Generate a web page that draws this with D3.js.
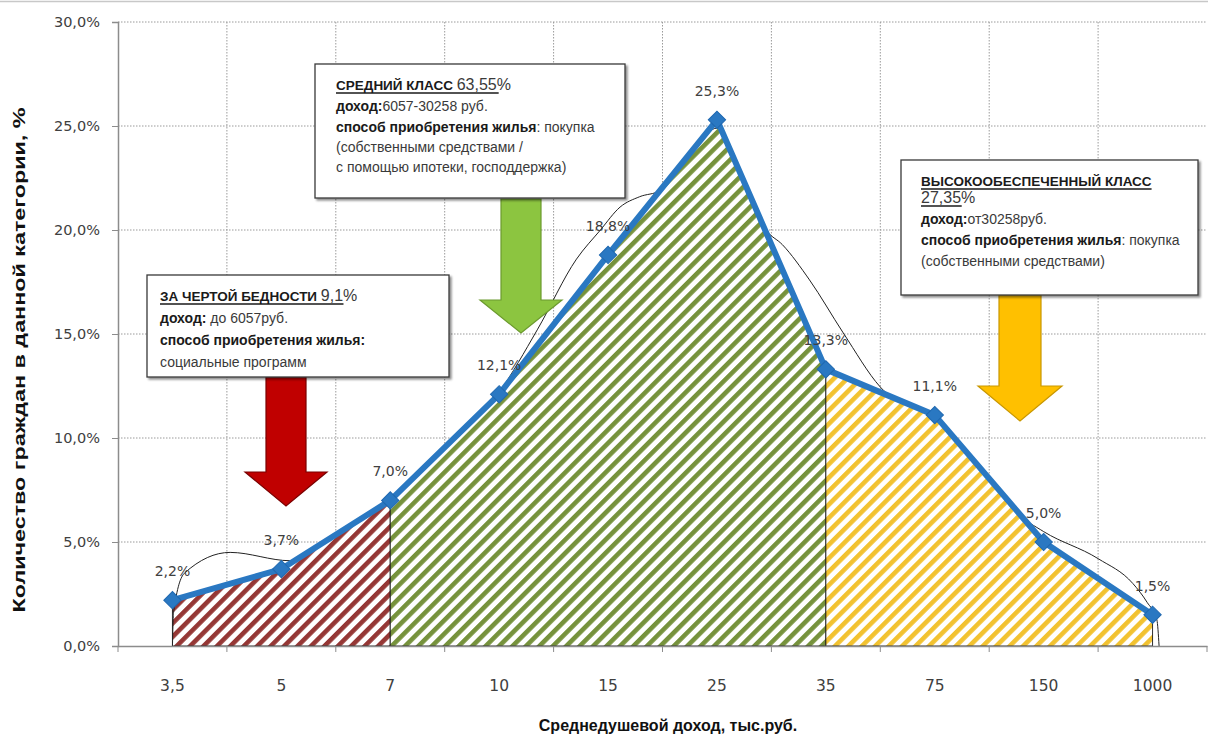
<!DOCTYPE html>
<html>
<head>
<meta charset="utf-8">
<script src="https://cdn.jsdelivr.net/npm/d3@7/dist/d3.min.js"></script>
<style>
  html, body { margin: 0; padding: 0; background: #fff; }
  svg { display: block; }
</style>
</head>
<body>
<svg id="chart" width="1208" height="735"></svg>
<script>
// Income brackets (thousand roubles per capita) and share of citizens in each
const categories = ["3,5", "5", "7", "10", "15", "25", "35", "75", "150", "1000"];
const shares = [2.2, 3.7, 7.0, 12.1, 18.8, 25.3, 13.3, 11.1, 5.0, 1.5];
const yTicks = [0, 5, 10, 15, 20, 25, 30];

// Income classes: first and last bracket index of each shaded region
const classStart = [0, 2, 6];
const classEnd = [2, 6, 9];
const classColors = ["#953735", "#76923c", "#f2c230"];

// Hand-drawn bell curve: positions in bracket units and heights in %
const bellPos = [0, 0.01, 0.11, 0.53, 1.08, 1.5, 2, 2.5, 3, 3.35, 3.71, 3.93, 4.11, 4.29, 4.48, 4.8, 5.0, 5.2, 5.45, 5.6, 5.85, 6.16, 6.5, 7, 7.4, 7.75, 8.0, 8.5, 8.82, 8.95, 9.04, 9.06];
const bellVal = [0, 1.6, 3.5, 4.5, 4.1, 5.4, 7.1, 9.5, 12.2, 15.2, 18.6, 20.0, 21.1, 21.6, 21.9, 24.0, 24.9, 22.9, 20.0, 19.3, 17.6, 15.05, 12.45, 10.9, 8.7, 6.4, 5.5, 4.2, 3.0, 2.1, 1.25, 0];

const svg = d3.select("#chart");
const W = 1208, H = 735;
const plot = { left: 118, right: 1207, top: 22, bottom: 646 };

const x = d3.scaleBand().domain(categories).range([plot.left, plot.right]).paddingInner(0).paddingOuter(0);
const bw = x.bandwidth();
const cx = c => x(c) + bw / 2;
const xi = d3.scaleLinear().domain([0, categories.length - 1]).range([cx(categories[0]), cx(categories[categories.length - 1])]);
const y = d3.scaleLinear().domain([0, 30]).range([plot.bottom, plot.top]);
const pct = v => d3.format(".1f")(v).replace(".", ",") + "%";

// outer frame line
svg.append("line").attr("x1", 0).attr("x2", W).attr("y1", 1.5).attr("y2", 1.5)
  .attr("stroke", "#c8c8c8").attr("stroke-width", 1.5);

// hatch patterns
const defs = svg.append("defs");
classColors.forEach((col, i) => {
  const p = defs.append("pattern").attr("id", "hatch" + i)
    .attr("patternUnits", "userSpaceOnUse").attr("width", 9.5).attr("height", 9.5)
    .attr("patternTransform", "rotate(45)");
  p.append("rect").attr("width", 9.5).attr("height", 9.5).attr("fill", "#fff");
  p.append("rect").attr("width", 4.6).attr("height", 9.5).attr("fill", col);
});
const shadow = defs.append("filter").attr("id", "shadow").attr("x", "-5%").attr("y", "-5%").attr("width", "115%").attr("height", "115%");
shadow.append("feDropShadow").attr("dx", 2).attr("dy", 2).attr("stdDeviation", 1.2).attr("flood-color", "#000").attr("flood-opacity", 0.45);

// gridlines
const grid = svg.append("g");
grid.selectAll(".hg").data(yTicks.filter(t => t > 0)).join("line")
  .attr("x1", plot.left).attr("x2", plot.right)
  .attr("y1", d => y(d)).attr("y2", d => y(d))
  .attr("stroke", "#9a9a9a").attr("stroke-width", 1).attr("stroke-dasharray", "1.5,1.5");
grid.selectAll(".vg").data(categories.slice(1)).join("line")
  .attr("x1", d => x(d)).attr("x2", d => x(d))
  .attr("y1", plot.top).attr("y2", plot.bottom)
  .attr("stroke", "#9a9a9a").attr("stroke-width", 1).attr("stroke-dasharray", "1.5,1.5");

// shaded income-class regions
const area = d3.area().x(d => xi(d.i)).y0(y(0)).y1(d => y(d.v));
classStart.forEach((s, k) => {
  const pts = d3.range(s, classEnd[k] + 1).map(i => ({ i, v: shares[i] }));
  svg.append("path").datum(pts).attr("d", area)
    .attr("fill", "url(#hatch" + k + ")")
    .attr("stroke", "#1a1a1a").attr("stroke-width", 0.9);
});

// bell curve
const bellPts = bellPos.map((p, i) => [xi(p), y(bellVal[i])]);
svg.append("path").attr("d", d3.line().curve(d3.curveMonotoneX)(bellPts))
  .attr("fill", "none").attr("stroke", "#222").attr("stroke-width", 1);

// axes
const yAxis = svg.append("g").attr("transform", `translate(${plot.left},0)`)
  .call(d3.axisLeft(y).tickValues(yTicks).tickSize(6).tickPadding(12).tickFormat(pct));
yAxis.select(".domain").attr("stroke", "#8c8c8c").attr("stroke-width", 1.5);
yAxis.selectAll(".tick line").attr("stroke", "#8c8c8c");
yAxis.selectAll(".tick text").attr("font-family", "DejaVu Sans").attr("font-size", 14.5).attr("fill", "#404040");

const xAxis = svg.append("g").attr("transform", `translate(0,${plot.bottom})`)
  .call(d3.axisBottom(x).tickSize(0).tickPadding(34));
xAxis.select(".domain").attr("stroke", "#8c8c8c").attr("stroke-width", 1.5);
xAxis.selectAll(".tick text").attr("font-family", "DejaVu Sans").attr("font-size", 15.5).attr("fill", "#404040");
xAxis.selectAll(".bt").data(categories.concat(["end"])).join("line")
  .attr("x1", (d, i) => i < categories.length ? x(d) : x(categories[categories.length - 1]) + bw)
  .attr("x2", (d, i) => i < categories.length ? x(d) : x(categories[categories.length - 1]) + bw)
  .attr("y1", 0).attr("y2", 6).attr("stroke", "#8c8c8c");

// axis titles
svg.append("text")
  .attr("transform", `translate(25,${(plot.top + plot.bottom) / 2 + 26}) rotate(-90)`)
  .attr("text-anchor", "middle").attr("font-family", "Liberation Sans Narrow, Liberation Sans, sans-serif")
  .attr("font-weight", "bold").attr("font-size", 16).attr("fill", "#111")
  .attr("textLength", 505).attr("lengthAdjust", "spacingAndGlyphs")
  .text("Количество  граждан в данной категории, %");
svg.append("text")
  .attr("x", 668).attr("y", 731).attr("text-anchor", "middle")
  .attr("font-family", "Liberation Sans, sans-serif").attr("font-weight", "bold")
  .attr("font-size", 16).attr("fill", "#111")
  .text("Среднедушевой доход, тыс.руб.");

// series line with diamond markers
const linePts = shares.map((v, i) => [cx(categories[i]), y(v)]);
svg.append("path").attr("d", d3.line()(linePts))
  .attr("fill", "none").attr("stroke", "#2a78c2").attr("stroke-width", 6)
  .attr("stroke-linejoin", "round");
svg.selectAll(".mk").data(shares).join("path")
  .attr("d", d3.symbol(d3.symbolSquare, 150))
  .attr("transform", (d, i) => `translate(${cx(categories[i])},${y(d)}) rotate(45)`)
  .attr("fill", "#2a78c2").attr("stroke", "#1f68b0").attr("stroke-width", 1);

// value labels
svg.selectAll(".vl").data(shares).join("text")
  .attr("x", (d, i) => cx(categories[i]))
  .attr("y", d => y(d) - 24)
  .attr("text-anchor", "middle").attr("font-family", "DejaVu Sans")
  .attr("font-size", 14).attr("fill", "#404040")
  .text(d => pct(d));

// block arrows pointing at each class
function arrow(cxp, top, neck, tip, sw, hw, fill, stroke) {
  const pts = [[cxp - sw, top], [cxp + sw, top], [cxp + sw, neck], [cxp + hw, neck], [cxp, tip], [cxp - hw, neck], [cxp - sw, neck]];
  svg.append("path").attr("d", "M" + pts.map(p => p.join(",")).join("L") + "Z")
    .attr("fill", fill).attr("stroke", stroke).attr("stroke-width", 1.2);
}
arrow(286, 377, 472, 506, 20, 41, "#c00000", "#7a0000");
arrow(521, 199, 300, 333, 20, 41, "#8cc540", "#6b9a2e");
arrow(1020, 295, 386, 421, 21, 42, "#ffc000", "#c99700");

// annotation boxes
function box(bx, by, bw2, bh, lines) {
  const g = svg.append("g");
  g.append("rect").attr("x", bx).attr("y", by).attr("width", bw2).attr("height", bh)
    .attr("fill", "#fff").attr("stroke", "#3a3a3a").attr("stroke-width", 1.3)
    .attr("filter", "url(#shadow)");
  lines.forEach(ln => {
    const t = g.append("text").attr("x", ln.x).attr("y", ln.y)
      .attr("font-family", "Liberation Sans, sans-serif").attr("fill", "#262626");
    ln.parts.forEach(p => {
      t.append("tspan").attr("font-weight", p.b ? "bold" : "normal")
        .attr("font-size", p.s || 14).attr("fill", p.b ? "#1a1a1a" : "#3a3a3a").text(p.t);
    });
    if (ln.u) {
      const len = t.node().getComputedTextLength();
      g.append("line").attr("x1", ln.x).attr("x2", ln.x + len * (ln.u === true ? 1 : ln.u))
        .attr("y1", ln.y + 3).attr("y2", ln.y + 3).attr("stroke", "#1a1a1a").attr("stroke-width", 1.4);
    }
  });
}

box(315, 64, 310, 134, [
  { x: 336, y: 90, u: 0.93, parts: [{ t: "СРЕДНИЙ КЛАСС ", b: true, s: 13.5 }, { t: "63,55%", s: 16 }] },
  { x: 336, y: 111, parts: [{ t: "доход:", b: true }, { t: "6057-30258 руб." }] },
  { x: 336, y: 132, parts: [{ t: "способ приобретения жилья", b: true }, { t: ": покупка" }] },
  { x: 336, y: 152, parts: [{ t: "(собственными средствами /" }] },
  { x: 336, y: 172, parts: [{ t: "с помощью ипотеки, господдержка)" }] }
]);

box(147, 275, 302, 102, [
  { x: 160, y: 301, u: 0.93, parts: [{ t: "ЗА ЧЕРТОЙ БЕДНОСТИ  ", b: true, s: 13.5 }, { t: "9,1%", s: 16 }] },
  { x: 160, y: 323, parts: [{ t: "доход:", b: true }, { t: " до 6057руб." }] },
  { x: 160, y: 345, parts: [{ t: "способ приобретения жилья:", b: true }] },
  { x: 160, y: 367, parts: [{ t: "социальные программ" }] }
]);

box(901, 160, 297, 135, [
  { x: 921, y: 186, u: true, parts: [{ t: "ВЫСОКООБЕСПЕЧЕННЫЙ КЛАСС", b: true, s: 13.5 }] },
  { x: 921, y: 203, u: 0.75, parts: [{ t: " 27,35%", s: 16 }] },
  { x: 921, y: 224, parts: [{ t: "доход:", b: true }, { t: "от30258руб." }] },
  { x: 921, y: 245, parts: [{ t: "способ приобретения жилья", b: true }, { t: ": покупка" }] },
  { x: 921, y: 266, parts: [{ t: "(собственными средствами)" }] }
]);
</script>
</body>
</html>
